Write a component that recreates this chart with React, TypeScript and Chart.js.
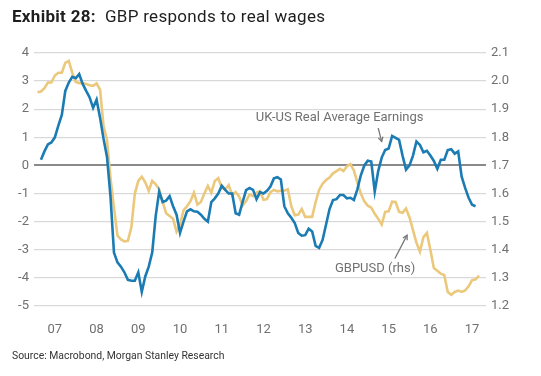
import React, { useEffect, useRef } from "react";
import { Chart, registerables } from "chart.js";

Chart.register(...registerables);

const START_YEAR = 2007;
const MONTH_COUNT = 131;
const months: string[] = Array.from({ length: MONTH_COUNT }, (_, i) =>
  `${START_YEAR + Math.floor(i / 12)}-${String((i % 12) + 1).padStart(2, "0")}`
);

// UK-US real average earnings (lhs), monthly from Jan 2007
const realEarnings: (number | null)[] = [
  null, null, 0.2, 0.5, 0.75, 0.82, 1.0, 1.42, 1.8, 2.65, 2.95, 3.15,
  3.1, 3.25, 2.9, 2.65, 2.42, 2.05, 2.34, 1.7, 0.95, 0.3, -1.1, -3.1,
  -3.45, -3.6, -3.8, -4.07, -4.1, -4.1, -3.8, -4.5, -3.95, -3.6, -3.1, -1.8,
  -0.93, -1.3, -1.25, -1.09, -1.45, -1.75, -2.4, -2.0, -1.63, -1.56, -1.63, -1.65,
  -1.75, -1.9, -2.0, -1.3, -1.17, -1.0, -0.72, -0.87, -1.0, -1.0, -1.7, -1.75,
  -1.3, -0.88, -0.8, -0.87, -1.2, -0.95, -1.0, -0.9, -0.75, -0.46, -0.42, -0.5,
  -1.45, -1.7, -1.86, -2.05, -2.4, -2.5, -2.48, -2.25, -2.35, -2.86, -2.93, -2.65,
  -2.1, -1.55, -1.23, -1.2, -1.05, -1.05, -1.17, -1.15, -1.23, -0.85, -0.35, 0.0,
  0.17, 0.14, -0.93, -0.2, 0.28, 0.55, 0.6, 1.05, 0.98, 0.91, 0.35, -0.15,
  0.0, 0.35, 0.85, 0.73, 0.47, 0.52, 0.35, 0.16, -0.12, 0.2, 0.2, 0.55,
  0.58, 0.42, 0.5, -0.4, -0.8, -1.15, -1.4, -1.45,
];

// GBPUSD (rhs), monthly from Jan 2007
const gbpusd: (number | null)[] = [
  null, 1.96, 1.963, 1.975, 1.995, 1.995, 2.02, 2.03, 2.03, 2.065, 2.072, 2.03,
  1.997, 1.993, 1.993, 1.99, 1.985, 1.983, 1.992, 1.97, 1.84, 1.79, 1.655, 1.55,
  1.45, 1.437, 1.43, 1.432, 1.48, 1.6, 1.645, 1.66, 1.64, 1.61, 1.645, 1.633,
  1.615, 1.57, 1.53, 1.52, 1.51, 1.465, 1.49, 1.54, 1.555, 1.573, 1.603, 1.561,
  1.57, 1.6, 1.627, 1.603, 1.645, 1.655, 1.62, 1.615, 1.63, 1.594, 1.605, 1.59,
  1.557, 1.573, 1.597, 1.591, 1.603, 1.608, 1.578, 1.58, 1.605, 1.613, 1.608, 1.61,
  1.61, 1.615, 1.555, 1.523, 1.525, 1.545, 1.517, 1.517, 1.517, 1.57, 1.613, 1.635,
  1.648, 1.657, 1.672, 1.68, 1.688, 1.68, 1.697, 1.705, 1.682, 1.64, 1.6, 1.572,
  1.557, 1.55, 1.528, 1.51, 1.49, 1.535, 1.537, 1.571, 1.57, 1.535, 1.532, 1.547,
  1.515, 1.47, 1.425, 1.393, 1.445, 1.46, 1.4, 1.335, 1.325, 1.315, 1.31, 1.25,
  1.24, 1.25, 1.255, 1.25, 1.255, 1.27, 1.292, 1.295, 1.308,
];

const LEFT_MIN = -5;
const LEFT_MAX = 4;
const RIGHT_MIN = 1.2;
const RIGHT_MAX = 2.1;

const TITLE_BOLD = "Exhibit 28:";
const TITLE_TEXT = "GBP responds to real wages";
const SOURCE_TEXT = "Source: Macrobond, Morgan Stanley Research";
const EARNINGS_LABEL = "UK-US Real Average Earnings";
const GBP_LABEL = "GBPUSD (rhs)";

const BLUE = "#1b7bb3";
const GOLD = "#ebc87c";
const GREY_TEXT = "#707070";

const annotationPlugin = {
  id: "annots",
  afterDatasetsDraw(chart: any) {
    const { ctx, scales } = chart;
    const xs = scales.x;
    const ys = scales.y;
    const px = (m: number) => xs.getPixelForValue(m);
    const py = (v: number) => ys.getPixelForValue(v);
    ctx.save();
    ctx.font = "13px Roboto";
    ctx.fillStyle = GREY_TEXT;
    ctx.textAlign = "center";
    ctx.textBaseline = "middle";
    ctx.fillText(EARNINGS_LABEL, px(87.9), py(1.69));
    ctx.fillText(GBP_LABEL, px(98.1), py(-3.66));

    const arrow = (x1: number, y1: number, x2: number, y2: number) => {
      ctx.strokeStyle = "#777777";
      ctx.lineWidth = 1.3;
      ctx.beginPath();
      ctx.moveTo(x1, y1);
      ctx.lineTo(x2, y2);
      ctx.stroke();
      const ang = Math.atan2(y2 - y1, x2 - x1);
      const h = 5;
      ctx.beginPath();
      ctx.moveTo(x2 - h * Math.cos(ang - 0.5), y2 - h * Math.sin(ang - 0.5));
      ctx.lineTo(x2, y2);
      ctx.lineTo(x2 - h * Math.cos(ang + 0.5), y2 - h * Math.sin(ang + 0.5));
      ctx.stroke();
    };
    arrow(px(99.0), py(1.33), px(100.0), py(0.85));
    arrow(px(103.8), py(-3.31), px(107.3), py(-2.48));
    ctx.restore();
  },
};

export default function App() {
  const canvasRef = useRef<HTMLCanvasElement | null>(null);

  useEffect(() => {
    if (!canvasRef.current) return;
    const chart = new Chart(canvasRef.current, {
      type: "line",
      data: {
        labels: months,
        datasets: [
          {
            label: EARNINGS_LABEL,
            data: realEarnings,
            yAxisID: "y",
            borderColor: BLUE,
            borderWidth: 2.6,
            pointRadius: 0,
            tension: 0,
            spanGaps: false,
          },
          {
            label: GBP_LABEL,
            data: gbpusd,
            yAxisID: "y1",
            borderColor: GOLD,
            borderWidth: 2.6,
            pointRadius: 0,
            tension: 0,
          },
        ],
      },
      options: {
        animation: false,
        responsive: false,
        maintainAspectRatio: false,
        events: [],
        layout: { padding: { top: 53, bottom: 40, left: 0, right: 0 } },
        plugins: {
          legend: { display: false },
          tooltip: { enabled: false },
          title: { display: false },
        },
        scales: {
          x: {
            type: "category",
            offset: false,
            grid: { display: false },
            border: { display: false },
            afterBuildTicks: (scale: any) => {
              scale.ticks = scale.ticks.filter((t: any) => t.value % 12 === 6);
            },
            afterFit: (scale: any) => {
              scale.height = 30;
            },
            ticks: {
              autoSkip: false,
              maxRotation: 0,
              padding: 8,
              color: GREY_TEXT,
              font: { family: "Roboto", size: 13 },
              callback: (value: any) => {
                const idx = Number(value);
                const yr = START_YEAR + Math.floor(idx / 12);
                return String(yr % 100).padStart(2, "0");
              },
            },
          },
          y: {
            position: "left",
            min: LEFT_MIN,
            max: LEFT_MAX,
            border: { display: false },
            afterFit: (scale: any) => {
              scale.width = 34;
            },
            grid: {
              drawTicks: false,
              color: (c: any) => (c.tick && c.tick.value === 0 ? "#8a8a8a" : "#d9d9d9"),
              lineWidth: (c: any) => (c.tick && c.tick.value === 0 ? 2 : 1.3),
            },
            ticks: {
              stepSize: 1,
              padding: 5,
              color: GREY_TEXT,
              font: { family: "Roboto", size: 13 },
            },
          },
          y1: {
            position: "right",
            min: RIGHT_MIN,
            max: RIGHT_MAX,
            border: { display: false },
            afterFit: (scale: any) => {
              scale.width = 55;
            },
            grid: { display: false, drawTicks: false },
            ticks: {
              stepSize: 0.1,
              padding: 5,
              color: GREY_TEXT,
              font: { family: "Roboto", size: 13 },
              callback: (v: any) => Number(v).toFixed(1),
            },
          },
        },
      },
      plugins: [annotationPlugin],
    } as any);
    return () => chart.destroy();
  }, []);

  return (
    <div
      style={{
        position: "fixed",
        left: 0,
        top: 0,
        width: 541,
        height: 376,
        background: "#ffffff",
        overflow: "hidden",
        fontFamily: "Roboto, sans-serif",
      }}
    >
      <canvas
        ref={canvasRef}
        width={541}
        height={376}
        style={{ position: "absolute", left: 0, top: 0, width: 541, height: 376 }}
      />
      <div
        style={{
          position: "absolute",
          left: 12,
          top: 6,
          fontSize: 17,
          lineHeight: "20px",
          letterSpacing: "0.3px",
          color: "#1e1e1e",
          whiteSpace: "pre",
        }}
      >
        <span style={{ fontWeight: 700 }}>{TITLE_BOLD}</span>
        {"  " + TITLE_TEXT}
      </div>
      <div
        style={{
          position: "absolute",
          left: 12,
          top: 350,
          fontSize: 10.4,
          lineHeight: "12px",
          color: "#333333",
          whiteSpace: "pre",
        }}
      >
        {SOURCE_TEXT}
      </div>
    </div>
  );
}
